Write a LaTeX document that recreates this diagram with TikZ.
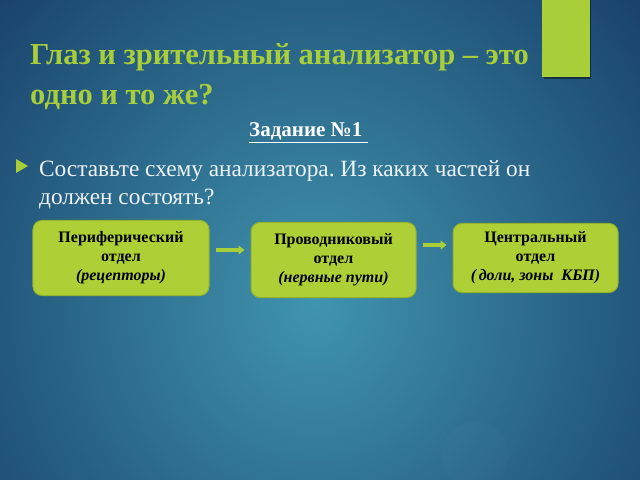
\documentclass[tikz,border=0pt]{standalone}
\usepackage{fontspec}
\setmainfont{Liberation Serif}
\frenchspacing
\usetikzlibrary{arrows.meta,positioning}
\definecolor{slidenavy}{RGB}{14,42,88}
\definecolor{slideteal}{RGB}{64,148,174}
\definecolor{titlegreen}{RGB}{168,206,58}
\definecolor{boxgreen}{RGB}{174,208,54}
\definecolor{boxedge}{RGB}{146,178,44}
\definecolor{bodywhite}{RGB}{236,242,246}
\tikzset{
  titletext/.style={text=titlegreen, inner sep=0pt, font=\fontsize{30.5bp}{36bp}\selectfont\bfseries},
  bodytext/.style={text=bodywhite, inner sep=0pt, font=\fontsize{23.3bp}{28bp}\selectfont},
  partbox/.style={draw=boxedge, line width=1bp, fill=boxgreen, rounded corners=9bp, align=center,
    text=black, inner sep=0pt, font=\fontsize{16bp}{19bp}\selectfont\bfseries},
  flow/.style={draw=titlegreen, line width=4bp, -{Triangle[length=6bp,width=9bp]},
    shorten <=6bp, shorten >=6bp}
}

\begin{document}
\begin{tikzpicture}[x=1bp, y=-1bp]
	%%%%% BACKGROUND %%%%%
	\useasboundingbox (0,0) rectangle (640,480);
	\fill[slidenavy] (0,0) rectangle (640,480);
	\begin{scope}
		\clip (0,0) rectangle (640,480);
		\shade[inner color=slideteal, outer color=slidenavy] (315,305) ellipse [x radius=560bp, y radius=600bp];
		\fill[white, opacity=0.015] (475,455) circle (33bp);
	\end{scope}
	
	% green bar top right
	\fill[black, opacity=0.45] (544,0) rectangle (591,79);
	\fill[titlegreen] (542,0) rectangle (590,77);
	
	%%%%% TEXT %%%%%
	\node[titletext, anchor=base west] (title1) at (30,65) {Глаз и зрительный анализатор – это};
	\node[titletext, anchor=base west] (title2) at (30,105) {одно и то же?};
	
	\node[anchor=base west, inner sep=0pt, text=white, font=\fontsize{21bp}{25bp}\selectfont\bfseries] (task) at (249,137) {\underline{Задание №1\ }};
	
	\fill[titlegreen] (16,159) -- (28,166) -- (16,173) -- cycle;
	\node[bodytext, anchor=base west] (ask1) at (39,177) {Составьте схему анализатора. Из каких частей он};
	\node[bodytext, anchor=base west] (ask2) at (39,205) {должен состоять?};
	
	%%%%% SCHEME %%%%%
	\node[partbox, minimum width=176bp, minimum height=75bp] (periph) at (121,258) {Периферический\\отдел\\\textit{(рецепторы)}};
	\node[partbox, minimum width=165bp, minimum height=75bp, right=41bp of periph, yshift=-2bp] (conduct) {Проводниковый\\отдел\\\textit{(нервные пути)}};
	\node[partbox, minimum width=165bp, minimum height=69bp, right=36bp of conduct, yshift=2bp] (central) {Центральный\\отдел\\\textit{(\,доли, зоны\enspace КБП)}};
	
	\coordinate (a1) at ([yshift=8bp]periph.east);
	\coordinate (a2) at ([yshift=15bp]conduct.east);
	\draw[flow] (a1) -- (a1 -| conduct.west);
	\draw[flow] (a2) -- (a2 -| central.west);
\end{tikzpicture}
\end{document}
